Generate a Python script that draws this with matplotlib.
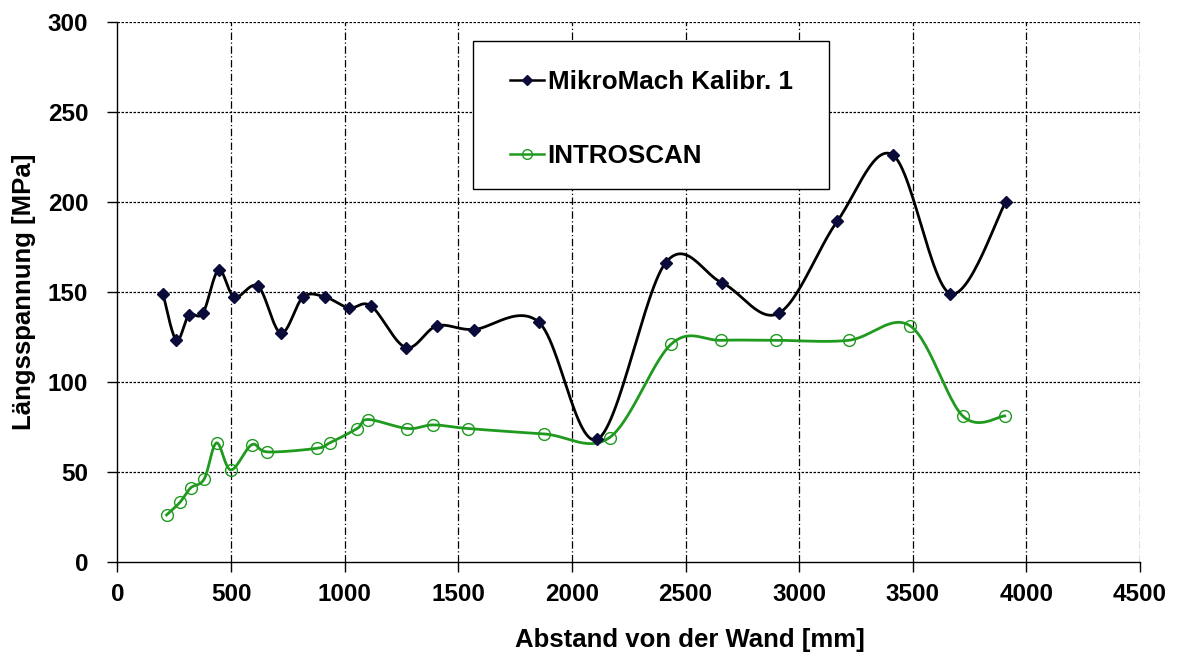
import numpy as np
import matplotlib.pyplot as plt
from matplotlib.patches import Rectangle

plt.rcParams['font.family'] = ['Liberation Sans', 'DejaVu Sans']

# MikroMach Kalibr. 1
mm_x = [200, 259, 314, 376, 445, 515, 619, 719, 817, 915, 1019, 1117,
        1269, 1406, 1568, 1855, 2112, 2412, 2660, 2910, 3167, 3412, 3664, 3910]
mm_y = [149, 123, 137, 138, 162, 147, 153, 127, 147, 147, 141, 142,
        119, 131, 129, 133, 68, 166, 155, 138, 189, 226, 149, 200]

# INTROSCAN
in_x = [216, 275, 322, 382, 436, 499, 591, 660, 877, 934, 1055, 1103,
        1276, 1389, 1543, 1877, 2166, 2438, 2657, 2899, 3218, 3489, 3720, 3905]
in_y = [26, 33, 41, 46, 66, 51, 65, 61, 63, 66, 74, 79,
        74, 76, 74, 71, 69, 121, 123, 123, 123, 131, 81, 81]

x_ticks = np.arange(0, 4501, 500)
y_ticks = np.arange(0, 301, 50)


def smooth(xs, ys, n=30):
    # Catmull-Rom style bezier smoothing, like spreadsheet "smoothed line"
    p = np.column_stack([xs, ys]).astype(float)
    pts = [p[0]]
    for i in range(len(p) - 1):
        p0 = p[i - 1] if i > 0 else p[i]
        p1, p2 = p[i], p[i + 1]
        p3 = p[i + 2] if i + 2 < len(p) else p[i + 1]
        c1 = p1 + (p2 - p0) / 6.0
        c2 = p2 - (p3 - p1) / 6.0
        t = np.linspace(0, 1, n)[1:, None]
        seg = ((1 - t) ** 3) * p1 + 3 * ((1 - t) ** 2) * t * c1 \
            + 3 * (1 - t) * t ** 2 * c2 + t ** 3 * p2
        pts.extend(seg)
    pts = np.array(pts)
    return pts[:, 0], pts[:, 1]


fig = plt.figure(figsize=(11.78, 6.55), dpi=100)
ax = fig.add_axes([0.0997, 0.1424, 0.8680, 0.8245])

black = "#000000"
navy = "#0b0b3a"
green = "#1f9a1f"

sx, sy = smooth(mm_x, mm_y)
ax.plot(sx, sy, color=black, lw=2.0, zorder=3)
ax.plot(mm_x, mm_y, ls="none", marker="D", ms=6.5, color=navy, zorder=4)

gx, gy = smooth(in_x, in_y)
ax.plot(gx, gy, color=green, lw=2.0, zorder=3)
ax.plot(in_x, in_y, ls="none", marker="o", ms=8.5, mfc="none", mec=green,
        mew=1.0, zorder=4)

# legend handles
ax.plot([], [], color=black, lw=1.8, marker="D", ms=5, mfc=navy, mec=navy,
        label="MikroMach Kalibr. 1")
ax.plot([], [], color=green, lw=1.8, marker="o", ms=7, mfc="none", mec=green,
        label="INTROSCAN")

ax.set_xlim(0, 4500)
ax.set_ylim(0, 300)
ax.set_xticks(x_ticks)
ax.set_yticks(y_ticks)

for v in x_ticks[1:]:
    ax.axvline(v, color="black", lw=0.9, ls=(0, (6, 2, 1, 2)), zorder=1)
for v in y_ticks[1:]:
    ax.axhline(v, color="black", lw=0.9, ls=(0, (2, 1.2)), zorder=1)

for s in ["top", "right"]:
    ax.spines[s].set_visible(False)
ax.spines["left"].set_linewidth(1.0)
ax.spines["bottom"].set_linewidth(1.0)
ax.tick_params(direction="out", length=7, width=1, labelsize=17.5)
ax.tick_params(axis="y", pad=14)
ax.tick_params(axis="x", pad=8)
for lab in ax.get_xticklabels() + ax.get_yticklabels():
    lab.set_fontweight("bold")

ax.set_xlabel("Abstand von der Wand [mm]", fontsize=18.5, fontweight="bold")
ax.xaxis.set_label_coords(0.56, -0.123)
ax.set_ylabel("Längsspannung [MPa]", fontsize=18.5, fontweight="bold")
ax.yaxis.set_label_coords(-0.08, 0.5)

# legend box
ax.add_patch(Rectangle((0.3477, 0.690), 0.3481, 0.2743, transform=ax.transAxes,
                       facecolor="white", edgecolor="black", lw=1.0, zorder=5))
leg = ax.legend(loc="upper left", bbox_to_anchor=(0.3839, 0.910),
                prop={"weight": "bold", "size": 18.7}, frameon=False,
                handlelength=1.3, handletextpad=0.15, labelspacing=1.9,
                borderpad=0, borderaxespad=0)
leg.set_zorder(6)

plt.savefig("out.png", dpi=100)
plt.close()
